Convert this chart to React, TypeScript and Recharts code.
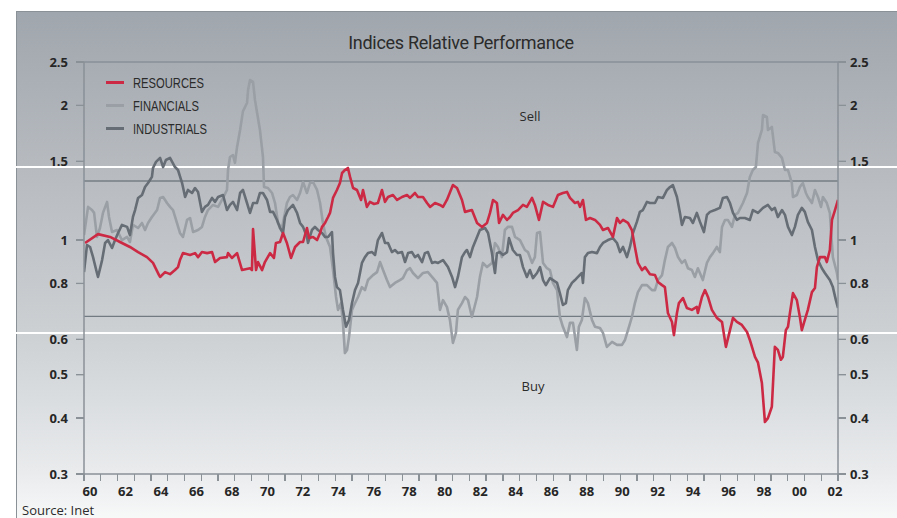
import { LineChart, Line, XAxis, YAxis, ReferenceLine, Legend } from "recharts";

// years are stored as offsets from 1960, values are the relative index
const BASE_YEAR = 1960;
const X_DOMAIN: [number, number] = [1959.66, 2002.17];
const YEAR_TICKS = [1960, 1962, 1964, 1966, 1968, 1970, 1972, 1974, 1976, 1978, 1980, 1982, 1984, 1986, 1988, 1990, 1992, 1994, 1996, 1998, 2000, 2002];
const MINOR_TICK_COUNT = 46;
const Y_MIN = 0.3;
const Y_MAX = 2.5;
const Y_TICKS = [0.3, 0.4, 0.5, 0.6, 0.8, 1, 1.5, 2, 2.5];
const SELL_LEVEL = 1.355;
const BUY_LEVEL = 0.675;

const RESOURCES: [number, number][] = [
  [-0.28, 0.985], [0.45, 1.031], [1.13, 1.016], [1.69, 0.99], [2.25, 0.965], [2.71, 0.94], [3.21, 0.916], [3.55, 0.889],
  [3.89, 0.835], [3.95, 0.827], [4.23, 0.848], [4.51, 0.839], [4.79, 0.857], [4.96, 0.87], [5.07, 0.902], [5.24, 0.935],
  [5.64, 0.926], [5.92, 0.935], [6.09, 0.916], [6.31, 0.94], [6.6, 0.935], [6.88, 0.94], [7.05, 0.893], [7.33, 0.912],
  [7.72, 0.916], [7.78, 0.935], [8.0, 0.912], [8.29, 0.935], [8.57, 0.857], [9.02, 0.865], [9.13, 0.857], [9.19, 1.058],
  [9.36, 0.857], [9.47, 0.893], [9.7, 0.857], [9.86, 0.893], [10.15, 0.935], [10.37, 0.912], [10.48, 0.985], [10.71, 0.99],
  [10.88, 1.037], [11.1, 0.985], [11.33, 0.912], [11.56, 0.965], [11.84, 0.99], [12.01, 0.99], [12.23, 1.064], [12.35, 1.01],
  [12.57, 1.016], [12.8, 1.0], [12.97, 1.037], [13.08, 1.07], [13.25, 1.092], [13.42, 1.126], [13.53, 1.15], [13.7, 1.242],
  [13.92, 1.294], [14.09, 1.341], [14.21, 1.412], [14.37, 1.434], [14.54, 1.449], [14.66, 1.384], [14.83, 1.307], [15.05, 1.294],
  [15.28, 1.229], [15.39, 1.294], [15.61, 1.186], [15.78, 1.217], [16.01, 1.204], [16.23, 1.21], [16.46, 1.294], [16.63, 1.217],
  [16.8, 1.248], [17.08, 1.261], [17.31, 1.229], [17.59, 1.248], [17.87, 1.261], [18.04, 1.242], [18.32, 1.274], [18.49, 1.248],
  [18.77, 1.248], [19.0, 1.21], [19.17, 1.186], [19.45, 1.21], [19.73, 1.198], [19.9, 1.186], [20.12, 1.229], [20.46, 1.327],
  [20.69, 1.307], [20.97, 1.229], [21.14, 1.156], [21.53, 1.167], [21.82, 1.092], [22.1, 1.07], [22.38, 1.092], [22.55, 1.15],
  [22.72, 1.229], [22.94, 1.21], [23.06, 1.092], [23.28, 1.138], [23.51, 1.109], [23.68, 1.126], [23.84, 1.15], [24.13, 1.167],
  [24.41, 1.198], [24.63, 1.186], [24.92, 1.242], [25.08, 1.198], [25.31, 1.109], [25.54, 1.217], [25.82, 1.198], [26.1, 1.186],
  [26.38, 1.261], [26.66, 1.274], [26.89, 1.281], [27.06, 1.242], [27.34, 1.21], [27.51, 1.217], [27.62, 1.186], [27.79, 1.229],
  [27.96, 1.109], [28.19, 1.12], [28.47, 1.109], [28.75, 1.081], [28.92, 1.053], [29.2, 1.064], [29.48, 1.016], [29.71, 1.12],
  [29.88, 1.092], [30.05, 1.109], [30.33, 1.092], [30.55, 1.053], [30.72, 0.965], [30.89, 0.889], [31.12, 0.857], [31.29, 0.87],
  [31.57, 0.839], [31.85, 0.835], [32.02, 0.806], [32.25, 0.793], [32.41, 0.785], [32.58, 0.687], [32.81, 0.656], [32.92, 0.613],
  [33.09, 0.687], [33.2, 0.723], [33.43, 0.742], [33.65, 0.705], [33.93, 0.698], [34.21, 0.709], [34.27, 0.687], [34.5, 0.746],
  [34.67, 0.773], [34.84, 0.746], [35.06, 0.698], [35.34, 0.67], [35.63, 0.656], [35.85, 0.577], [36.08, 0.629], [36.25, 0.67],
  [36.47, 0.656], [36.75, 0.646], [37.04, 0.623], [37.2, 0.598], [37.49, 0.548], [37.66, 0.532], [37.88, 0.479], [38.05, 0.392],
  [38.22, 0.4], [38.44, 0.424], [38.61, 0.577], [38.78, 0.568], [38.95, 0.54], [39.06, 0.548], [39.23, 0.629], [39.35, 0.64],
  [39.46, 0.687], [39.63, 0.761], [39.85, 0.734], [40.02, 0.673], [40.13, 0.629], [40.3, 0.663], [40.47, 0.698], [40.7, 0.765],
  [40.87, 0.781], [40.98, 0.87], [41.15, 0.916], [41.43, 0.916], [41.54, 0.893], [41.71, 0.95], [41.83, 1.109], [42.0, 1.167],
  [42.17, 1.229],
];

const FINANCIALS: [number, number][] = [
  [-0.34, 1.026], [-0.11, 1.186], [0.11, 1.167], [0.23, 1.15], [0.39, 1.016], [0.56, 1.064], [0.73, 1.15], [0.96, 1.217],
  [1.07, 1.126], [1.24, 1.042], [1.52, 1.053], [1.8, 1.0], [2.09, 1.016], [2.25, 0.99], [2.42, 1.081], [2.71, 1.064],
  [2.93, 1.092], [3.1, 1.053], [3.27, 1.092], [3.49, 1.126], [3.78, 1.167], [3.95, 1.242], [4.12, 1.248], [4.34, 1.21],
  [4.51, 1.186], [4.68, 1.167], [4.9, 1.092], [5.07, 1.037], [5.24, 1.016], [5.47, 1.109], [5.64, 1.12], [5.81, 1.042],
  [6.09, 1.053], [6.31, 1.07], [6.48, 1.126], [6.65, 1.167], [6.93, 1.198], [7.22, 1.186], [7.5, 1.242], [7.72, 1.294],
  [7.78, 1.434], [7.89, 1.533], [8.06, 1.549], [8.17, 1.488], [8.29, 1.615], [8.46, 1.762], [8.62, 1.939], [8.85, 2.025],
  [8.91, 2.164], [9.02, 2.279], [9.19, 2.256], [9.3, 2.056], [9.58, 1.762], [9.75, 1.533], [9.81, 1.314], [10.03, 1.307],
  [10.26, 1.274], [10.43, 1.21], [10.6, 1.092], [10.82, 1.064], [10.99, 1.15], [11.1, 1.21], [11.27, 1.248], [11.44, 1.261],
  [11.67, 1.229], [11.84, 1.274], [12.01, 1.348], [12.23, 1.274], [12.4, 1.341], [12.57, 1.348], [12.8, 1.294], [12.97, 1.21],
  [13.13, 1.092], [13.3, 1.016], [13.53, 0.965], [13.7, 0.857], [13.87, 0.746], [13.98, 0.698], [14.15, 0.723], [14.26, 0.653],
  [14.37, 0.559], [14.49, 0.568], [14.6, 0.607], [14.77, 0.698], [14.94, 0.723], [15.11, 0.746], [15.33, 0.785], [15.5, 0.773],
  [15.67, 0.814], [15.95, 0.835], [16.18, 0.848], [16.35, 0.893], [16.52, 0.857], [16.74, 0.814], [16.91, 0.785], [17.19, 0.802],
  [17.47, 0.814], [17.64, 0.822], [17.87, 0.857], [18.04, 0.865], [18.21, 0.844], [18.49, 0.822], [18.77, 0.844], [19.05, 0.848],
  [19.34, 0.822], [19.56, 0.802], [19.73, 0.698], [19.9, 0.734], [20.12, 0.709], [20.29, 0.663], [20.46, 0.589], [20.63, 0.62],
  [20.74, 0.698], [20.97, 0.723], [21.14, 0.746], [21.31, 0.734], [21.53, 0.673], [21.82, 0.746], [21.98, 0.827], [22.15, 0.889],
  [22.38, 0.87], [22.66, 0.889], [22.83, 0.985], [23.0, 0.965], [23.22, 0.916], [23.39, 1.053], [23.56, 1.07], [23.79, 1.07],
  [23.96, 1.016], [24.24, 1.0], [24.52, 0.95], [24.69, 0.94], [24.92, 0.889], [25.08, 0.916], [25.2, 1.037], [25.37, 1.042],
  [25.54, 0.889], [25.76, 0.865], [25.93, 0.857], [26.1, 0.802], [26.33, 0.773], [26.49, 0.673], [26.66, 0.64], [26.89, 0.607],
  [27.06, 0.653], [27.23, 0.653], [27.45, 0.568], [27.56, 0.64], [27.73, 0.663], [27.9, 0.742], [28.07, 0.723], [28.3, 0.663],
  [28.47, 0.64], [28.75, 0.636], [28.92, 0.62], [29.14, 0.577], [29.43, 0.592], [29.71, 0.583], [29.99, 0.583], [30.16, 0.598],
  [30.33, 0.629], [30.55, 0.673], [30.72, 0.723], [30.89, 0.765], [31.12, 0.793], [31.4, 0.793], [31.68, 0.773], [31.85, 0.773],
  [32.02, 0.814], [32.25, 0.835], [32.41, 0.902], [32.58, 0.965], [32.81, 0.985], [32.98, 0.96], [33.15, 0.916], [33.37, 0.889],
  [33.54, 0.902], [33.71, 0.865], [33.93, 0.857], [34.1, 0.827], [34.27, 0.865], [34.55, 0.814], [34.78, 0.889], [34.95, 0.916],
  [35.12, 0.935], [35.34, 0.965], [35.51, 0.94], [35.63, 1.07], [35.8, 1.109], [35.96, 1.109], [36.19, 1.07], [36.36, 1.138],
  [36.53, 1.15], [36.81, 1.21], [37.04, 1.274], [37.2, 1.384], [37.37, 1.434], [37.54, 1.456], [37.66, 1.648], [37.88, 1.762],
  [37.94, 1.903], [38.16, 1.884], [38.22, 1.762], [38.44, 1.79], [38.61, 1.574], [38.78, 1.566], [39.01, 1.526], [39.18, 1.434],
  [39.35, 1.434], [39.57, 1.341], [39.63, 1.248], [39.85, 1.261], [40.02, 1.314], [40.19, 1.341], [40.36, 1.274], [40.47, 1.248],
  [40.7, 1.21], [40.87, 1.294], [41.04, 1.248], [41.21, 1.186], [41.32, 1.248], [41.54, 1.21], [41.71, 1.15], [41.88, 0.916],
  [42.11, 0.844], [42.17, 0.814],
];

const INDUSTRIALS: [number, number][] = [
  [-0.34, 0.848], [-0.17, 0.975], [0.0, 0.965], [0.17, 0.916], [0.39, 0.844], [0.45, 0.827], [0.68, 0.902], [0.85, 0.985],
  [1.01, 1.0], [1.24, 0.96], [1.41, 1.0], [1.58, 1.037], [1.8, 1.081], [2.09, 1.07], [2.25, 1.026], [2.42, 1.126],
  [2.54, 1.167], [2.71, 1.242], [2.93, 1.261], [3.1, 1.314], [3.27, 1.341], [3.49, 1.384], [3.55, 1.449], [3.72, 1.495],
  [3.95, 1.526], [4.12, 1.456], [4.28, 1.51], [4.51, 1.526], [4.79, 1.456], [4.96, 1.434], [5.19, 1.341], [5.36, 1.248],
  [5.52, 1.294], [5.75, 1.274], [5.92, 1.307], [6.09, 1.281], [6.31, 1.156], [6.48, 1.186], [6.65, 1.198], [6.88, 1.242],
  [7.05, 1.217], [7.22, 1.248], [7.5, 1.261], [7.72, 1.167], [7.89, 1.198], [8.06, 1.217], [8.29, 1.167], [8.46, 1.274],
  [8.62, 1.294], [8.85, 1.21], [9.02, 1.15], [9.19, 1.21], [9.41, 1.21], [9.58, 1.274], [9.75, 1.274], [9.98, 1.229],
  [10.15, 1.156], [10.32, 1.156], [10.54, 1.109], [10.71, 1.064], [10.88, 1.037], [10.99, 1.126], [11.16, 1.167], [11.44, 1.198],
  [11.67, 1.15], [11.84, 1.092], [12.01, 1.07], [12.23, 1.016], [12.29, 0.985], [12.51, 1.053], [12.68, 1.07], [12.85, 1.053],
  [13.08, 1.037], [13.25, 1.016], [13.42, 1.016], [13.64, 1.042], [13.7, 0.935], [13.81, 0.827], [13.92, 0.785], [14.09, 0.773],
  [14.26, 0.698], [14.43, 0.64], [14.6, 0.663], [14.77, 0.723], [14.94, 0.773], [15.11, 0.802], [15.33, 0.889], [15.5, 0.916],
  [15.67, 0.935], [15.9, 0.94], [16.07, 0.926], [16.23, 1.0], [16.46, 1.037], [16.63, 0.985], [16.8, 0.985], [17.02, 0.94],
  [17.19, 0.95], [17.36, 0.935], [17.59, 0.94], [17.76, 0.893], [17.93, 0.935], [18.15, 0.94], [18.32, 0.916], [18.49, 0.926],
  [18.72, 0.893], [18.88, 0.935], [19.05, 0.94], [19.28, 0.889], [19.45, 0.893], [19.62, 0.889], [19.9, 0.902], [20.18, 0.87],
  [20.41, 0.827], [20.58, 0.785], [20.74, 0.827], [20.97, 0.916], [21.14, 0.94], [21.25, 0.95], [21.42, 0.916], [21.59, 0.965],
  [21.82, 1.016], [21.98, 1.053], [22.27, 1.064], [22.44, 1.037], [22.66, 0.935], [22.83, 0.844], [22.94, 0.935], [23.11, 0.94],
  [23.28, 0.926], [23.51, 0.94], [23.62, 1.01], [23.84, 0.95], [24.07, 0.926], [24.24, 0.926], [24.41, 0.87], [24.63, 0.827],
  [24.8, 0.857], [24.97, 0.822], [25.2, 0.844], [25.37, 0.87], [25.54, 0.814], [25.7, 0.793], [25.93, 0.822], [26.1, 0.814],
  [26.33, 0.802], [26.49, 0.761], [26.66, 0.716], [26.83, 0.723], [26.94, 0.773], [27.17, 0.802], [27.34, 0.814], [27.51, 0.827],
  [27.73, 0.844], [27.79, 0.802], [27.9, 0.916], [28.07, 0.935], [28.3, 0.94], [28.58, 0.935], [28.75, 0.965], [28.92, 0.985],
  [29.2, 1.0], [29.48, 1.01], [29.71, 0.985], [29.88, 0.94], [30.05, 0.965], [30.27, 0.916], [30.44, 0.965], [30.61, 1.037],
  [30.83, 1.098], [31.0, 1.156], [31.17, 1.167], [31.4, 1.217], [31.57, 1.21], [31.85, 1.21], [32.02, 1.248], [32.3, 1.242],
  [32.53, 1.294], [32.7, 1.314], [32.86, 1.327], [33.09, 1.248], [33.26, 1.15], [33.37, 1.081], [33.54, 1.126], [33.82, 1.12],
  [33.99, 1.092], [34.21, 1.15], [34.39, 1.098], [34.61, 1.042], [34.78, 1.138], [34.95, 1.156], [35.23, 1.167], [35.51, 1.18],
  [35.68, 1.242], [35.91, 1.248], [36.08, 1.21], [36.25, 1.15], [36.47, 1.109], [36.64, 1.12], [36.92, 1.12], [37.2, 1.109],
  [37.37, 1.167], [37.66, 1.15], [37.94, 1.18], [38.22, 1.198], [38.44, 1.167], [38.61, 1.18], [38.78, 1.126], [39.01, 1.167],
  [39.18, 1.138], [39.35, 1.07], [39.57, 1.026], [39.74, 1.07], [39.91, 1.138], [40.13, 1.18], [40.3, 1.156], [40.47, 1.098],
  [40.7, 1.053], [40.87, 0.965], [41.04, 0.902], [41.26, 0.865], [41.43, 0.844], [41.71, 0.814], [41.88, 0.785], [42.05, 0.734],
  [42.17, 0.705],
];

const SERIES = [
  { name: "RESOURCES", points: RESOURCES, color: "#cc2a44" },
  { name: "FINANCIALS", points: FINANCIALS, color: "#9a9fa5" },
  { name: "INDUSTRIALS", points: INDUSTRIALS, color: "#666d75" },
];
// paint order: financials under industrials under resources
const DRAW_ORDER = ["FINANCIALS", "INDUSTRIALS", "RESOURCES"];

const toRows = (pts: [number, number][]) => pts.map(([t, v]) => ({ year: BASE_YEAR + t, v }));

// plot box, follows from the chart margins + axis sizes below
const PLOT = { left: 84, top: 62, width: 754, height: 412 };

const AXIS = "#8a9197";
const TEXT = "#262626";
const TICK_LEN = 8;
const tickFont = { fill: TEXT, fontSize: 13, fontWeight: 700, fontFamily: "Open Sans" };

const yPixel = (v: number) => PLOT.top + (PLOT.height * Math.log(Y_MAX / v)) / Math.log(Y_MAX / Y_MIN);

const renderLegend = () => (
  <div style={{ fontFamily: "Liberation Sans", fontSize: 14, color: "#2b2b2b" }}>
    {SERIES.map((s) => (
      <div key={s.name} style={{ display: "flex", alignItems: "center", height: 23 }}>
        <div style={{ width: 18, height: 3, backgroundColor: s.color, marginRight: 9 }} />
        <span style={{ display: "inline-block", transform: "scaleX(0.8)", transformOrigin: "left center" }}>{s.name}</span>
      </div>
    ))}
  </div>
);

const tickDiv = (key: string, left: number, top: number, w: number, h: number) => (
  <div key={key} style={{ position: "absolute", left, top, width: w, height: h, background: AXIS }} />
);

export default function App() {
  const bottom = PLOT.top + PLOT.height;
  const right = PLOT.left + PLOT.width;
  return (
    <div style={{ position: "absolute", left: 0, top: 0, width: 897, height: 518, background: "#fff", overflow: "hidden" }}>
      <div
        style={{
          position: "absolute", left: 16, top: 11, width: 881, height: 507, boxSizing: "border-box",
          borderLeft: `1.5px solid ${AXIS}`, borderTop: `1.5px solid ${AXIS}`,
          background: "linear-gradient(to bottom, #a0a6ad 0%, #b7bbc0 31%, #ccd0d3 63%, #e9ebed 91%, #f7f8f8 100%)",
        }}
      />
      <div style={{ position: "absolute", left: 16, top: 166, width: 881, height: 1.5, background: "#fff" }} />
      <div style={{ position: "absolute", left: 16, top: 332, width: 881, height: 1.5, background: "#fff" }} />

      <LineChart width={897} height={518} margin={{ top: 62, right: 9, bottom: 14, left: 34 }} style={{ position: "absolute", left: 0, top: 0 }}>
        <XAxis
          xAxisId="years" type="number" dataKey="year" domain={X_DOMAIN} allowDataOverflow
          ticks={YEAR_TICKS} interval={0} height={30} tickLine={false}
          axisLine={{ stroke: AXIS, strokeWidth: 1.5 }}
          tickSize={6} tickMargin={7} tick={tickFont}
          tickFormatter={(v: number) => String(v % 100).padStart(2, "0")}
        />
        <YAxis
          yAxisId="left" scale="log" domain={[Y_MIN, Y_MAX]} allowDataOverflow ticks={Y_TICKS} interval={0} width={50}
          tickSize={TICK_LEN} tickMargin={8} tick={tickFont}
          tickLine={{ stroke: AXIS, strokeWidth: 1.3 }} axisLine={{ stroke: AXIS, strokeWidth: 1.5 }}
        />
        <YAxis
          yAxisId="right" orientation="right" scale="log" domain={[Y_MIN, Y_MAX]} allowDataOverflow ticks={Y_TICKS} interval={0} width={50}
          tickSize={TICK_LEN} tickMargin={4} tick={{ ...tickFont, textAnchor: "start" }}
          tickLine={{ stroke: AXIS, strokeWidth: 1.3 }} axisLine={{ stroke: AXIS, strokeWidth: 1.5 }}
        />
        <ReferenceLine yAxisId="left" xAxisId="years" y={Y_MAX} stroke={AXIS} strokeWidth={1.5} />
        <ReferenceLine yAxisId="left" xAxisId="years" y={SELL_LEVEL} stroke="#868d93" strokeWidth={2} />
        <ReferenceLine yAxisId="left" xAxisId="years" y={BUY_LEVEL} stroke="#737b82" strokeWidth={1.2} />
        {DRAW_ORDER.map((n) => {
          const s = SERIES.find((x) => x.name === n)!;
          return (
            <Line
              key={s.name} name={s.name} data={toRows(s.points)} dataKey="v" xAxisId="years" yAxisId="left"
              type="linear" stroke={s.color} strokeWidth={2.6} dot={false} activeDot={false}
              strokeLinejoin="round" isAnimationActive={false}
            />
          );
        })}
        {/* centered + middle keeps the legend from eating plot space */}
        <Legend
          layout="vertical" verticalAlign="middle" align="center" content={renderLegend}
          wrapperStyle={{ left: 106, top: 71, width: 160 }}
        />
      </LineChart>

      {/* axis tick stubs: 45 even steps along the bottom, one stub per y tick on each side */}
      {Array.from({ length: MINOR_TICK_COUNT }, (_, i) =>
        tickDiv(`m${i}`, PLOT.left + (i * PLOT.width) / (MINOR_TICK_COUNT - 1) - 0.65, bottom, 1.3, 7)
      )}
      {Y_TICKS.map((v) => tickDiv(`l${v}`, PLOT.left - TICK_LEN, yPixel(v) - 0.65, TICK_LEN, 1.3))}
      {Y_TICKS.map((v) => tickDiv(`r${v}`, right, yPixel(v) - 0.65, TICK_LEN, 1.3))}

      <div style={{ position: "absolute", left: 461, top: 42, transform: "translate(-50%, -50%)", fontFamily: "Roboto", fontSize: 18, letterSpacing: -0.3, color: "#2b2b2b", whiteSpace: "nowrap" }}>
        Indices Relative Performance
      </div>
      <div style={{ position: "absolute", left: 530, top: 116, transform: "translate(-50%, -50%)", fontFamily: "Open Sans", fontSize: 13, color: "#2b2b2b" }}>
        Sell
      </div>
      <div style={{ position: "absolute", left: 533, top: 386, transform: "translate(-50%, -50%)", fontFamily: "Open Sans", fontSize: 13, color: "#2b2b2b" }}>
        Buy
      </div>
      <div style={{ position: "absolute", left: 22, top: 502, fontFamily: "Open Sans", fontSize: 13, color: "#2b2b2b", lineHeight: "16px" }}>
        Source: Inet
      </div>
    </div>
  );
}
